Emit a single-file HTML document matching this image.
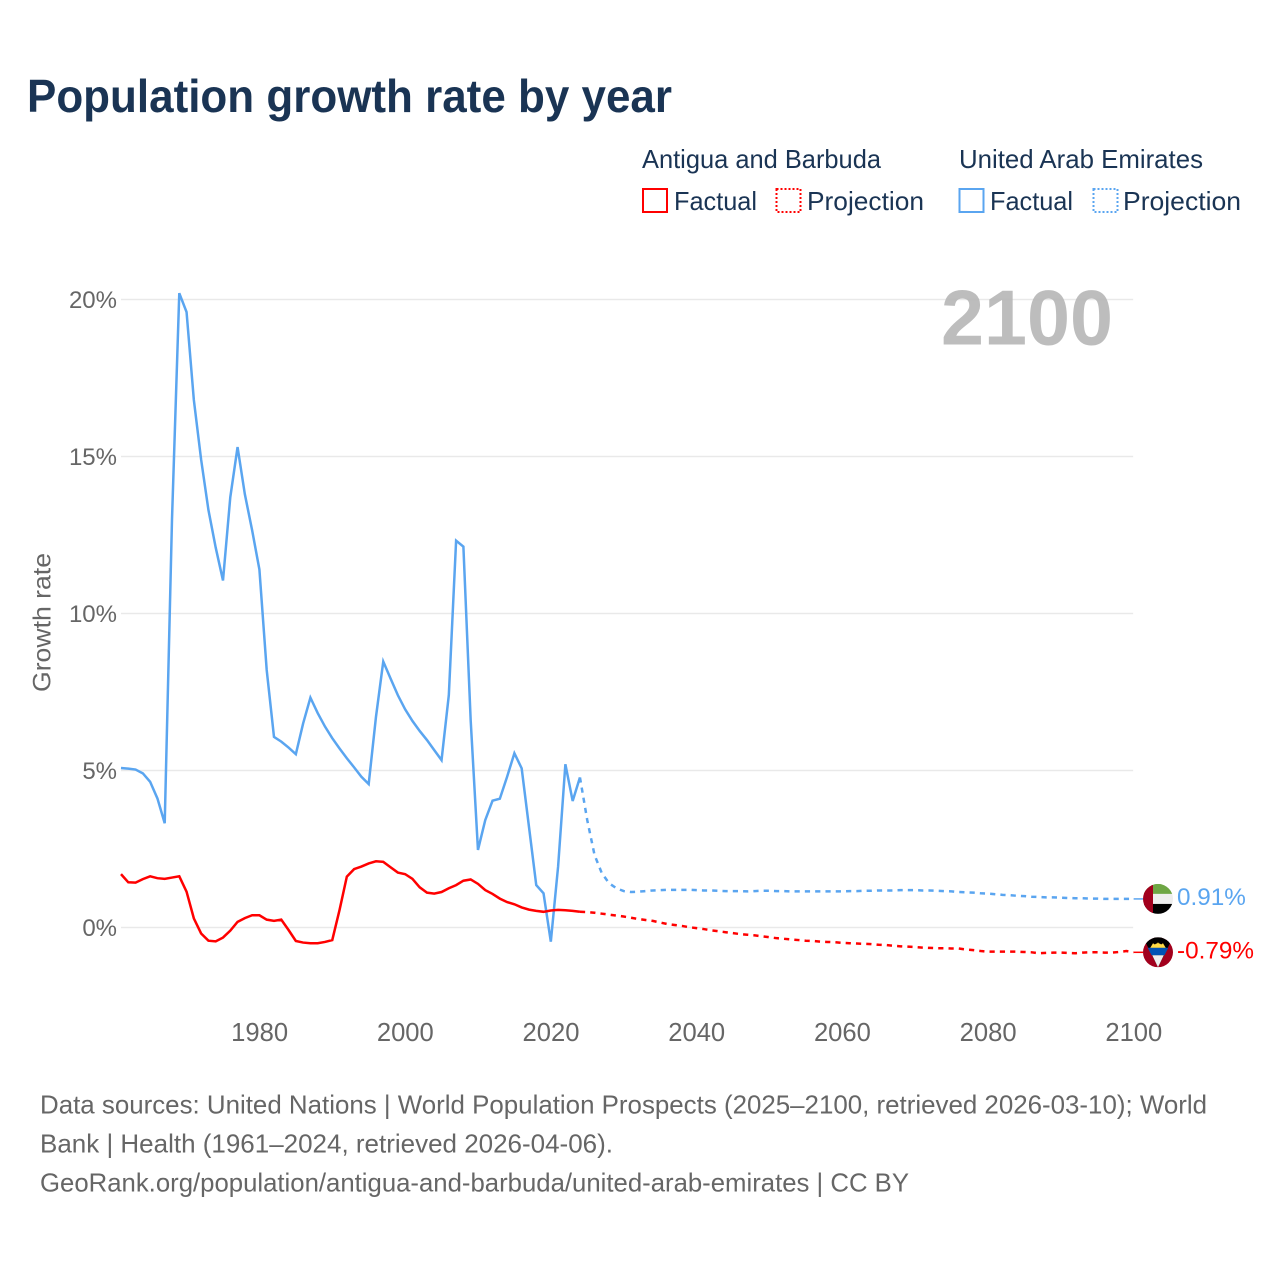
<!DOCTYPE html>
<html lang="en">
<head>
<meta charset="utf-8">
<title>Population growth rate by year</title>
<style>
html,body{margin:0;padding:0;background:#fff;}
svg{display:block;}
text{font-family:"Liberation Sans",sans-serif;}
</style>
</head>
<body>
<svg id="chart" width="1280" height="1280" viewBox="0 0 1280 1280" xmlns="http://www.w3.org/2000/svg">
  <rect width="1280" height="1280" fill="#fff"/>
  <defs>
    <clipPath id="flag-clip"><circle cx="0" cy="0" r="15"/></clipPath>
  </defs>

  <text x="27" y="112" font-size="46" font-weight="700" fill="#1a3454" textLength="645" lengthAdjust="spacingAndGlyphs">Population growth rate by year</text>

  <g font-size="26" fill="#1a3454">
    <text x="642" y="168" textLength="239" lengthAdjust="spacingAndGlyphs">Antigua and Barbuda</text>
    <text x="959" y="168" textLength="244" lengthAdjust="spacingAndGlyphs">United Arab Emirates</text>
    <rect x="643" y="189" width="24" height="23" fill="none" stroke="#ff0000" stroke-width="2"/>
    <text x="674" y="210" textLength="83" lengthAdjust="spacingAndGlyphs">Factual</text>
    <rect x="776.5" y="189" width="24" height="23" fill="none" stroke="#ff0000" stroke-width="2" stroke-dasharray="2 2"/>
    <text x="807" y="210" textLength="117" lengthAdjust="spacingAndGlyphs">Projection</text>
    <rect x="959.5" y="189" width="24" height="23" fill="none" stroke="#5aa5f0" stroke-width="2"/>
    <text x="990" y="210" textLength="83" lengthAdjust="spacingAndGlyphs">Factual</text>
    <rect x="1093.5" y="189" width="24" height="23" fill="none" stroke="#5aa5f0" stroke-width="2" stroke-dasharray="2 2"/>
    <text x="1123" y="210" textLength="118" lengthAdjust="spacingAndGlyphs">Projection</text>
  </g>

  <text transform="translate(50.5,622.5) rotate(-90)" text-anchor="middle" font-size="25" fill="#666" textLength="139" lengthAdjust="spacingAndGlyphs">Growth rate</text>

  <g id="grid"></g>
  <g id="y-ticks"></g>
  <g id="x-ticks"></g>

  <text id="year-watermark" x="1113" y="344.5" text-anchor="end" font-size="78" font-weight="700" fill="#b4b4b4" fill-opacity="0.88" textLength="172" lengthAdjust="spacingAndGlyphs">2100</text>

  <g id="series"></g>

  <g id="flag-uae">
    <g clip-path="url(#flag-clip)">
      <rect x="-15" y="-15" width="30" height="10" fill="#6ea644"/>
      <rect x="-15" y="-5" width="30" height="10" fill="#eeeeee"/>
      <rect x="-15" y="5" width="30" height="10" fill="#000"/>
      <rect x="-15" y="-15" width="10" height="30" fill="#a2001d"/>
    </g>
  </g>
  <g id="flag-antigua">
    <g clip-path="url(#flag-clip)">
      <rect x="-15" y="-15" width="30" height="30" fill="#a2001d"/>
      <polygon points="-15,-15 15,-15 0,15" fill="#000"/>
      <circle cx="0" cy="-4" r="5" fill="#ffda44"/>
      <polygon points="-8,-4 -5,-9 -2,-7 0,-10 2,-7 5,-9 8,-4" fill="#ffda44"/>
      <polygon points="-10.3,-5.5 10.3,-5.5 6.5,2 -6.5,2" fill="#0052b4" transform="translate(0,1)"/>
      <polygon points="-5.8,3 5.8,3 0,15" fill="#eeeeee"/>
    </g>
  </g>
  <g id="end-labels"></g>

  <g font-size="26" fill="#666">
    <text x="40" y="1113.5" textLength="1167" lengthAdjust="spacingAndGlyphs">Data sources: United Nations | World Population Prospects (2025–2100, retrieved 2026-03-10); World</text>
    <text x="40" y="1152.5" textLength="573" lengthAdjust="spacingAndGlyphs">Bank | Health (1961–2024, retrieved 2026-04-06).</text>
    <text x="40" y="1191.5" textLength="869" lengthAdjust="spacingAndGlyphs">GeoRank.org/population/antigua-and-barbuda/united-arab-emirates | CC BY</text>
  </g>
</svg>
<script>
const factualStartYear = 1961;
const projectionStartYear = 2024;
const yTickValues = [0, 5, 10, 15, 20];
const xTickYears = [1980, 2000, 2020, 2040, 2060, 2080, 2100];

const uaeFactual = [5.08,5.06,5.03,4.91,4.64,4.11,3.32,13.0,20.2,19.6,16.8,14.9,13.3,12.1,11.05,13.7,15.3,13.8,12.65,11.4,8.2,6.07,5.92,5.73,5.52,6.5,7.32,6.83,6.4,6.03,5.7,5.39,5.1,4.8,4.57,6.71,8.47,7.93,7.4,6.95,6.58,6.26,5.97,5.65,5.33,7.4,12.32,12.13,6.6,2.47,3.42,4.04,4.1,4.8,5.55,5.07,3.21,1.35,1.09,-0.45,1.94,5.2,4.03,4.78];

const uaeProjection = [4.78,3.42,2.31,1.73,1.41,1.25,1.16,1.13,1.14,1.16,1.18,1.19,1.2,1.2,1.2,1.2,1.19,1.18,1.18,1.17,1.16,1.16,1.16,1.15,1.16,1.17,1.17,1.16,1.16,1.15,1.15,1.15,1.15,1.15,1.15,1.15,1.15,1.16,1.16,1.17,1.17,1.18,1.18,1.18,1.19,1.19,1.19,1.18,1.18,1.17,1.16,1.15,1.13,1.12,1.11,1.09,1.08,1.06,1.04,1.03,1.01,1.0,0.98,0.97,0.96,0.96,0.95,0.94,0.93,0.93,0.92,0.92,0.91,0.91,0.91,0.91,0.91];

const antiguaFactual = [1.7,1.44,1.43,1.54,1.63,1.57,1.55,1.59,1.63,1.14,0.29,-0.19,-0.42,-0.44,-0.32,-0.1,0.18,0.3,0.39,0.39,0.25,0.21,0.25,-0.08,-0.43,-0.48,-0.5,-0.5,-0.46,-0.4,0.56,1.62,1.86,1.94,2.04,2.11,2.09,1.92,1.75,1.7,1.55,1.28,1.11,1.08,1.13,1.25,1.35,1.49,1.53,1.39,1.19,1.07,0.92,0.81,0.74,0.64,0.57,0.53,0.5,0.54,0.56,0.55,0.53,0.5];

const antiguaProjection = [0.5,0.49,0.47,0.44,0.41,0.38,0.35,0.31,0.27,0.24,0.21,0.16,0.11,0.08,0.05,0.01,-0.02,-0.05,-0.09,-0.12,-0.15,-0.18,-0.21,-0.23,-0.25,-0.28,-0.31,-0.34,-0.36,-0.38,-0.4,-0.42,-0.43,-0.45,-0.46,-0.47,-0.49,-0.5,-0.51,-0.52,-0.53,-0.55,-0.56,-0.58,-0.6,-0.61,-0.62,-0.64,-0.65,-0.66,-0.66,-0.67,-0.67,-0.7,-0.72,-0.75,-0.77,-0.77,-0.77,-0.77,-0.77,-0.78,-0.79,-0.82,-0.81,-0.8,-0.8,-0.81,-0.82,-0.8,-0.79,-0.79,-0.8,-0.8,-0.78,-0.75,-0.79];

const NS = 'http://www.w3.org/2000/svg';
const BLUE = '#5aa5f0';
const RED = '#ff0000';
const FLAG_X = 1158;

function xScale(year) { return 121 + (year - 1961) * 7.285; }
function yScale(value) { return 927.5 - value * 31.4; }

function pointsFor(values, startYear) {
  return values.map(function (v, i) {
    return xScale(startYear + i).toFixed(2) + ',' + yScale(v).toFixed(2);
  }).join(' ');
}

const gridGroup = document.getElementById('grid');
const yTickGroup = document.getElementById('y-ticks');
yTickValues.forEach(function (v) {
  const line = document.createElementNS(NS, 'line');
  
  
  line.setAttribute('x1', xScale(1961));
  line.setAttribute('x2', xScale(2100) - 0.5);
  line.setAttribute('y1', yScale(v));
  line.setAttribute('y2', yScale(v));
  line.setAttribute('stroke', '#e9e9e9');
  line.setAttribute('stroke-width', '1.4');
  gridGroup.appendChild(line);

  const label = document.createElementNS(NS, 'text');
  
  
  label.setAttribute('x', 117);
  label.setAttribute('y', yScale(v) + 8.5);
  label.setAttribute('text-anchor', 'end');
  label.setAttribute('font-size', '24');
  label.setAttribute('fill', '#666');
  label.textContent = v + '%';
  yTickGroup.appendChild(label);
});

const xTickGroup = document.getElementById('x-ticks');
xTickYears.forEach(function (year) {
  const label = document.createElementNS(NS, 'text');
  
  
  label.setAttribute('x', xScale(year) + 0.2);
  label.setAttribute('y', 1041);
  label.setAttribute('text-anchor', 'middle');
  label.setAttribute('font-size', '25.6');
  label.setAttribute('fill', '#666');
  label.textContent = String(year);
  xTickGroup.appendChild(label);
});

const seriesGroup = document.getElementById('series');

function drawSeries(values, startYear, color, dashed) {
  const line = document.createElementNS(NS, 'polyline');
  
  
  line.setAttribute('points', pointsFor(values, startYear));
  line.setAttribute('fill', 'none');
  line.setAttribute('stroke', color);
  line.setAttribute('stroke-width', '2.5');
  line.setAttribute('stroke-linejoin', 'miter');
  if (dashed) {
    line.setAttribute('stroke-dasharray', '5.2 5.1');
  }
  seriesGroup.appendChild(line);
}

function drawConnector(values, color) {
  const last = values[values.length - 1];
  const link = document.createElementNS(NS, 'line');
  
  
  link.setAttribute('x1', xScale(2100));
  link.setAttribute('x2', FLAG_X - 15);
  link.setAttribute('y1', yScale(last));
  link.setAttribute('y2', yScale(last));
  link.setAttribute('stroke', color);
  link.setAttribute('stroke-width', '1.5');
  seriesGroup.appendChild(link);
}

function drawEndLabel(values, color) {
  const last = values[values.length - 1];
  const label = document.createElementNS(NS, 'text');
  
  
  label.setAttribute('x', 1177);
  label.setAttribute('y', yScale(last) + 6);
  label.setAttribute('font-size', '24.3');
  label.setAttribute('fill', color);
  label.textContent = last.toFixed(2) + '%';
  document.getElementById('end-labels').appendChild(label);
}

drawSeries(uaeProjection, projectionStartYear, BLUE, true);
drawSeries(antiguaProjection, projectionStartYear, RED, true);
drawSeries(uaeFactual, factualStartYear, BLUE, false);
drawSeries(antiguaFactual, factualStartYear, RED, false);
drawConnector(uaeProjection, BLUE);
drawConnector(antiguaProjection, RED);
drawEndLabel(uaeProjection, BLUE);
drawEndLabel(antiguaProjection, RED);

document.getElementById('flag-uae').setAttribute('transform', 'translate(' + FLAG_X + ',' + yScale(uaeProjection[uaeProjection.length - 1]) + ')');
document.getElementById('flag-antigua').setAttribute('transform', 'translate(' + FLAG_X + ',' + yScale(antiguaProjection[antiguaProjection.length - 1]) + ')');
</script>
</body>
</html>
